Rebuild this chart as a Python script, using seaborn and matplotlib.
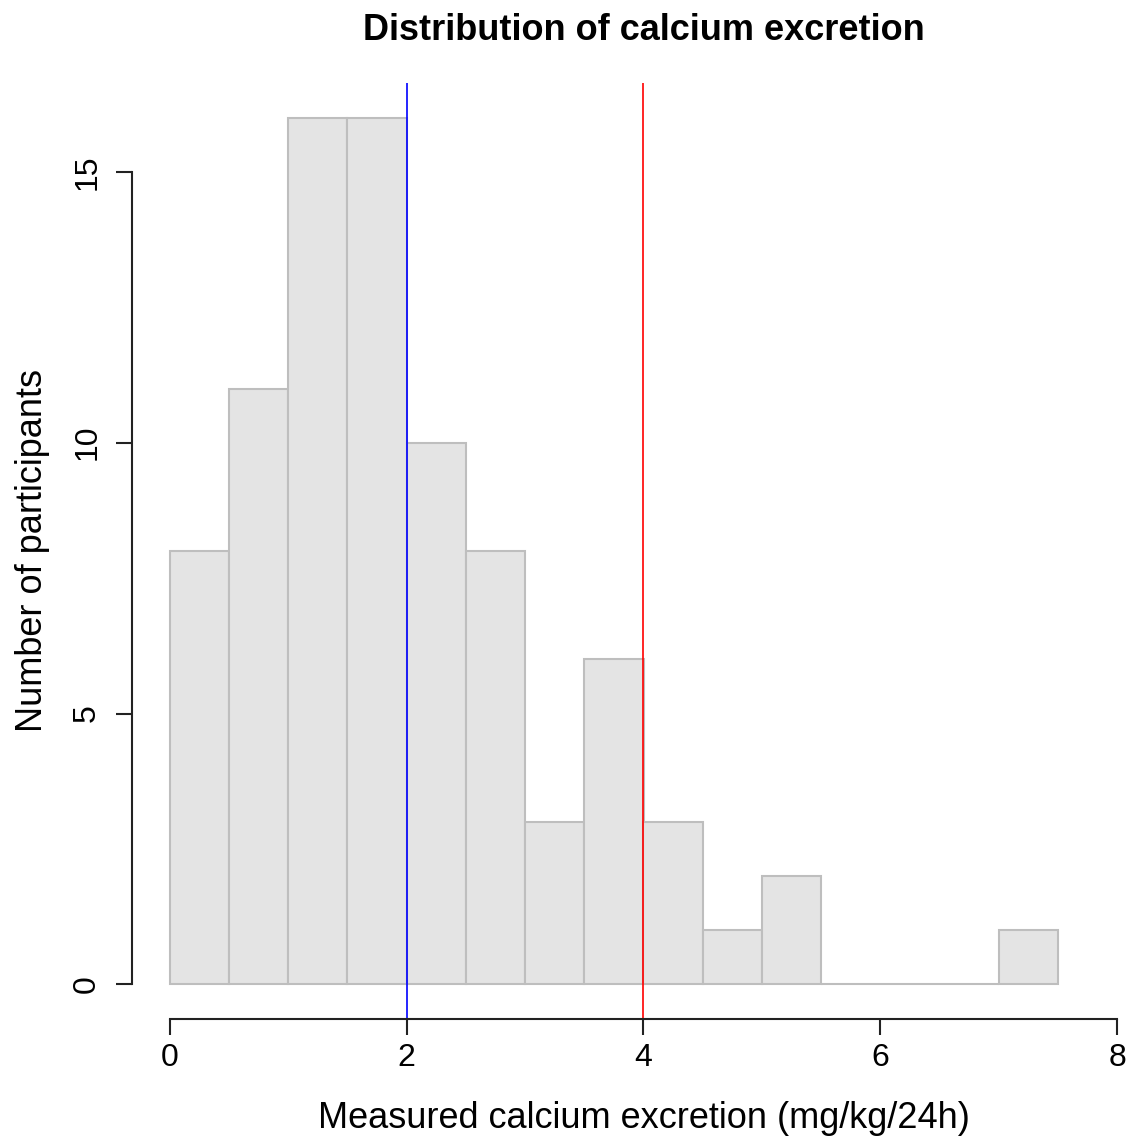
import numpy as np
import matplotlib
matplotlib.use("Agg")
import matplotlib.pyplot as plt
import seaborn as sns

bin_edges = [0, 0.5, 1, 1.5, 2, 2.5, 3, 3.5, 4, 4.5, 5, 5.5, 6, 6.5, 7, 7.5]
counts = [8, 11, 16, 16, 10, 8, 3, 6, 3, 1, 2, 0, 0, 0, 1]
x_ticks = [0, 2, 4, 6, 8]
y_ticks = [0, 5, 10, 15]
ref_lines = [2, 4]
ref_colors = ["#0000FF", "#FF0000"]

sns.set_style("white")
plt.rcParams["font.family"] = ["Liberation Sans", "DejaVu Sans"]
plt.rcParams["text.color"] = "black"
plt.rcParams["axes.labelcolor"] = "black"
plt.rcParams["xtick.color"] = "black"
plt.rcParams["ytick.color"] = "black"

W, H = 1130, 1142
fig = plt.figure(figsize=(W / 100, H / 100), dpi=100)
left, right, top, bottom = 132, 1155, 83, 1019
ax = fig.add_axes([left / W, 1 - bottom / H, (right - left) / W, (bottom - top) / H])

centers = [(a + b) / 2 for a, b in zip(bin_edges[:-1], bin_edges[1:])]
sns.histplot(x=centers, weights=counts, bins=bin_edges, ax=ax,
             color="#E4E4E4", edgecolor="#BEBEBE", linewidth=1.5, alpha=1)

for v, c in zip(ref_lines, ref_colors):
    ax.axvline(v, color=c, linewidth=1.2)

ax.set_xlim(-0.32, 8.32)
ax.set_ylim(-0.64, 16.64)
ax.set_xticks(x_ticks)
ax.set_yticks(y_ticks)
ax.set_yticklabels([str(t) for t in y_ticks], rotation=90, va="center")
for s in ["top", "right"]:
    ax.spines[s].set_visible(False)
ax.spines["bottom"].set_bounds(0, 8)
ax.spines["left"].set_bounds(0, 15)
for s in ["bottom", "left"]:
    ax.spines[s].set_color("#222222")
    ax.spines[s].set_linewidth(1.5)
ax.tick_params(axis="both", direction="out", length=11.5, width=1.5,
               color="#222222", labelsize=23, bottom=True, left=True)
ax.tick_params(axis="x", pad=6)
ax.tick_params(axis="y", pad=10)

ax.set_xlabel("Measured calcium excretion (mg/kg/24h)", fontsize=26, labelpad=20)
ax.set_ylabel("Number of participants", fontsize=26, labelpad=16)
ax.set_title("Distribution of calcium excretion", fontsize=26, fontweight="bold", pad=31)

fig.savefig("out.png", dpi=100, facecolor="white")
